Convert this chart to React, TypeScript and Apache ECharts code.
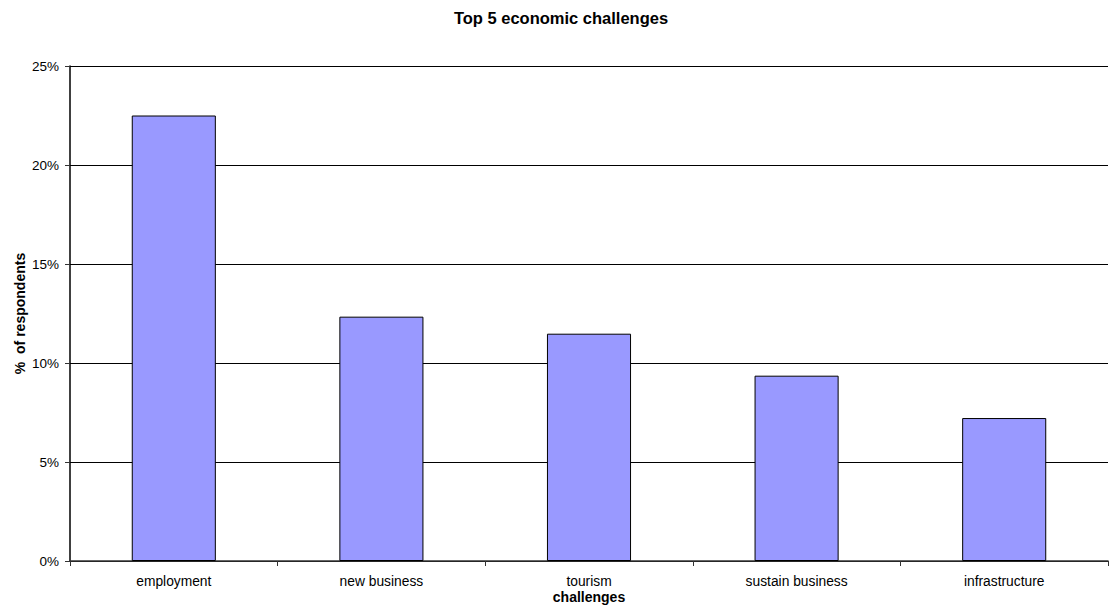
import React, { useEffect, useRef } from "react";
import * as echarts from "echarts";

const titleText = "Top 5 economic challenges";
const categories = ["employment", "new business", "tourism", "sustain business", "infrastructure"];
const values = [22.5, 12.34, 11.48, 9.36, 7.22];
const yTicks = [0, 5, 10, 15, 20, 25];

export default function App() {
  const ref = useRef<HTMLDivElement>(null);
  useEffect(() => {
    const chart = echarts.init(ref.current!, null, { renderer: "svg" });
    const font = "Liberation Sans, Arial, sans-serif";
    chart.setOption({
      animation: false,
      backgroundColor: "#ffffff",
      graphic: [
        {
          type: "text",
          x: 561,
          y: 18,
          style: {
            text: titleText,
            align: "center",
            verticalAlign: "middle",
            fontFamily: font,
            fontSize: 16.5,
            fontWeight: "bold",
            fill: "#000",
          },
        },
      ],
      grid: { left: 70, right: 2, top: 66, bottom: 53, containLabel: false, outerBoundsMode: "none" },
      xAxis: {
        type: "category",
        data: categories,
        name: "challenges",
        nameLocation: "middle",
        nameGap: 29,
        nameMoveOverlap: false,
        nameTextStyle: { fontFamily: font, fontSize: 14, fontWeight: "bold", color: "#000" },
        axisLine: { lineStyle: { color: "#333", width: 1.5 } },
        axisTick: { show: true, interval: 0, length: 5, lineStyle: { color: "#333" } },
        axisLabel: { fontFamily: font, fontSize: 13.8, color: "#000", margin: 13, interval: 0 },
      },
      yAxis: {
        type: "value",
        min: yTicks[0],
        max: yTicks[yTicks.length - 1],
        interval: 5,
        name: "%  of respondents",
        nameLocation: "middle",
        nameGap: 43,
        nameMoveOverlap: false,
        nameRotate: 90,
        nameTextStyle: { fontFamily: font, fontSize: 14, fontWeight: "bold", color: "#000" },
        axisLine: { show: true, lineStyle: { color: "#000", width: 1.5 } },
        axisTick: { show: true, length: 5, lineStyle: { color: "#333" } },
        axisLabel: { fontFamily: font, fontSize: 13.5, color: "#000", margin: 11, formatter: "{value}%" },
        splitLine: { show: true, lineStyle: { color: "#000", width: 1 } },
      },
      series: [
        {
          type: "bar",
          data: values,
          barWidth: "40.5%",
          itemStyle: { color: "#9999FF", borderColor: "#000", borderWidth: 1 },
        },
      ],
    });
    return () => chart.dispose();
  }, []);
  return (
    <div
      ref={ref}
      style={{ position: "fixed", left: 0, top: 0, width: 1110, height: 614, background: "#fff" }}
    />
  );
}
